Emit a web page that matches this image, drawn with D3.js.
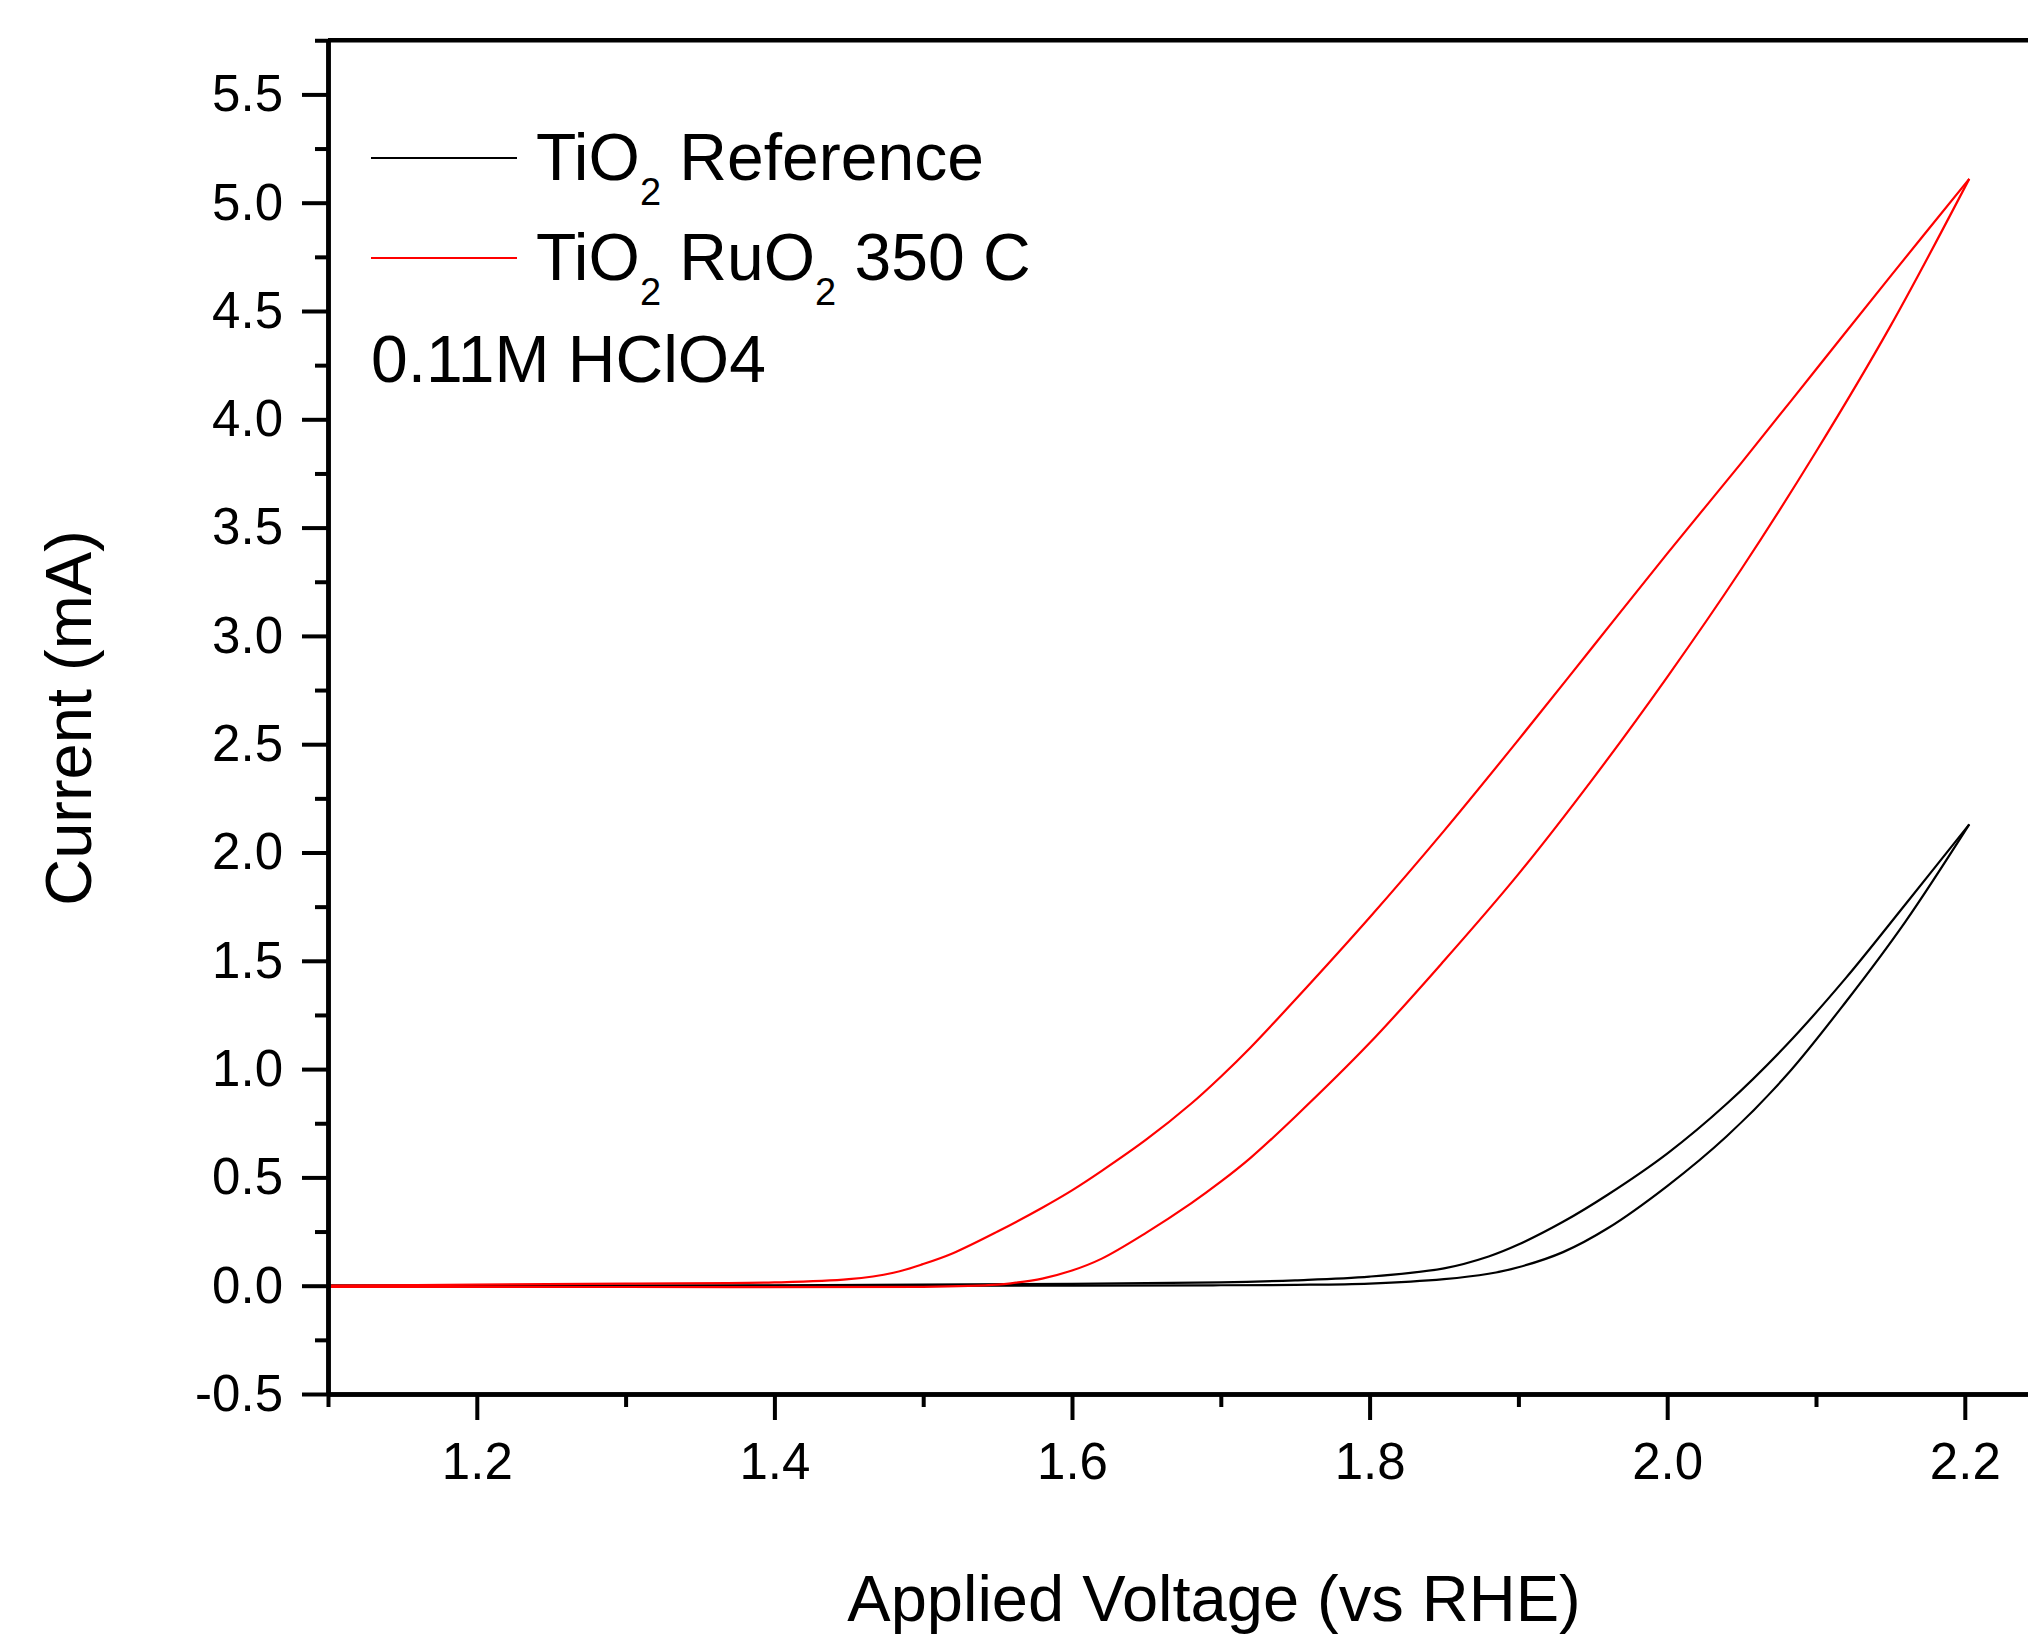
<!DOCTYPE html>
<html>
<head>
<meta charset="utf-8">
<script src="https://cdn.jsdelivr.net/npm/d3@7"></script>
<style>
  body { margin: 0; background: #fff; }
  svg text { font-family: "Liberation Sans", Arial, sans-serif; fill: #000; }
</style>
</head>
<body>
<div id="chart"></div>
<script>
// TiO2 reference loop: forward (lower) and reverse (upper) branches
var refFwdV = [1.10, 1.60, 1.70, 1.75, 1.80, 1.85, 1.88, 1.90, 1.93, 1.96, 2.00, 2.04, 2.08, 2.12, 2.16, 2.203];
var refFwdI = [0.0, 0.0, 0.002, 0.004, 0.01, 0.03, 0.055, 0.085, 0.155, 0.265, 0.46, 0.69, 0.97, 1.31, 1.68, 2.13];
var refRevV = [2.203, 2.16, 2.12, 2.08, 2.04, 2.00, 1.96, 1.93, 1.90, 1.88, 1.85, 1.80, 1.75, 1.70, 1.60, 1.40, 1.10];
var refRevI = [2.13, 1.76, 1.42, 1.11, 0.84, 0.61, 0.42, 0.295, 0.19, 0.135, 0.08, 0.042, 0.025, 0.015, 0.008, 0.002, 0.0];

// TiO2 RuO2 350 C loop
var ruFwdV = [1.10, 1.30, 1.50, 1.55, 1.56, 1.58, 1.60, 1.62, 1.65, 1.68, 1.70, 1.72, 1.75, 1.80, 1.85, 1.90, 1.95, 2.00, 2.05, 2.10, 2.15, 2.203];
var ruFwdI = [-0.005, -0.006, -0.005, 0.005, 0.012, 0.033, 0.07, 0.125, 0.245, 0.38, 0.48, 0.59, 0.78, 1.12, 1.50, 1.90, 2.34, 2.81, 3.31, 3.85, 4.43, 5.11];
var ruRevV = [2.203, 2.15, 2.10, 2.05, 2.00, 1.95, 1.90, 1.85, 1.80, 1.75, 1.72, 1.70, 1.68, 1.65, 1.62, 1.60, 1.58, 1.55, 1.52, 1.50, 1.48, 1.45, 1.40, 1.30, 1.20, 1.10];
var ruRevI = [5.11, 4.66, 4.23, 3.80, 3.38, 2.95, 2.52, 2.10, 1.70, 1.32, 1.10, 0.965, 0.84, 0.675, 0.53, 0.44, 0.36, 0.25, 0.15, 0.10, 0.06, 0.03, 0.015, 0.01, 0.005, 0.0];

var xMajor = [1.2, 1.4, 1.6, 1.8, 2.0, 2.2];
var xMinor = [1.1, 1.3, 1.5, 1.7, 1.9, 2.1];
var yMajor = [-0.5, 0, 0.5, 1.0, 1.5, 2.0, 2.5, 3.0, 3.5, 4.0, 4.5, 5.0, 5.5];
var yMajorLabels = ["-0.5", "0.0", "0.5", "1.0", "1.5", "2.0", "2.5", "3.0", "3.5", "4.0", "4.5", "5.0", "5.5"];
var yMinor = [-0.25, 0.25, 0.75, 1.25, 1.75, 2.25, 2.75, 3.25, 3.75, 4.25, 4.75, 5.25, 5.75];

var seriesColors = ["#000000", "#ff0000"];

var W = 2028, H = 1642;
var svg = d3.select("#chart").append("svg")
  .attr("width", W)
  .attr("height", H);

var x = d3.scaleLinear().domain([1.1, 2.25]).range([328, 328 + 1.15 * 1488]);
var y = d3.scaleLinear().domain([-0.5, 5.75]).range([1394, 1394 - 6.25 * 216.6]);

var zip = (vs, is) => vs.map((v, k) => ({ v: v, i: is[k] }));
var line = d3.line().x(d => x(d.v)).y(d => y(d.i)).curve(d3.curveCatmullRom.alpha(0.5));

var branches = [
  { data: zip(refFwdV, refFwdI), c: seriesColors[0] },
  { data: zip(refRevV, refRevI).reverse(), c: seriesColors[0] },
  { data: zip(ruFwdV, ruFwdI), c: seriesColors[1] },
  { data: zip(ruRevV, ruRevI).reverse(), c: seriesColors[1] }
];

svg.selectAll("path.curve")
  .data(branches)
  .join("path")
  .attr("class", "curve")
  .attr("fill", "none")
  .attr("stroke", d => d.c)
  .attr("stroke-width", 2.2)
  .attr("d", d => line(d.data));

// axes
function styleAxis(g) {
  g.selectAll(".domain").attr("stroke-width", 4.5);
  g.selectAll(".tick line").attr("stroke-width", 4);
  g.selectAll(".tick text").attr("font-size", 51).attr("font-family", "Liberation Sans, Arial, sans-serif");
}

svg.append("g")
  .attr("transform", "translate(0," + y(-0.5) + ")")
  .call(d3.axisBottom(x).tickValues(xMinor).tickSize(13).tickSizeOuter(0).tickFormat(""))
  .call(styleAxis);
svg.append("g")
  .attr("transform", "translate(0," + y(-0.5) + ")")
  .call(d3.axisBottom(x).tickValues(xMajor).tickSize(26).tickSizeOuter(0).tickPadding(23).tickFormat(d3.format(".1f")))
  .call(styleAxis);

svg.append("g")
  .attr("transform", "translate(" + x(1.1) + ",0)")
  .call(d3.axisLeft(y).tickValues(yMinor).tickSize(13).tickSizeOuter(0).tickFormat(""))
  .call(styleAxis);
svg.append("g")
  .attr("transform", "translate(" + x(1.1) + ",0)")
  .call(d3.axisLeft(y).tickValues(yMajor).tickSize(26).tickSizeOuter(0).tickPadding(19)
    .tickFormat((d, k) => yMajorLabels[k]))
  .call(styleAxis);

// top frame
svg.append("line")
  .attr("x1", x(1.1)).attr("x2", W)
  .attr("y1", y(5.75)).attr("y2", y(5.75))
  .attr("stroke", "#000").attr("stroke-width", 4.5);

// axis titles
svg.append("text")
  .attr("x", 1214).attr("y", 1621)
  .attr("text-anchor", "middle")
  .attr("font-size", 65)
  .text("Applied Voltage (vs RHE)");

svg.append("text")
  .attr("transform", "translate(91,718)rotate(-90)")
  .attr("text-anchor", "middle")
  .attr("font-size", 65)
  .text("Current (mA)");

// legend
var legendRows = [
  { parts: [["TiO", 0], ["2", 1], [" Reference", 0]], y: 180, c: seriesColors[0] },
  { parts: [["TiO", 0], ["2", 1], [" RuO", 0], ["2", 1], [" 350 C", 0]], y: 280, c: seriesColors[1] }
];
legendRows.forEach(r => {
  svg.append("line")
    .attr("x1", 371).attr("x2", 517)
    .attr("y1", r.y - 22).attr("y2", r.y - 22)
    .attr("stroke", r.c).attr("stroke-width", 2.2);
  var t = svg.append("text").attr("x", 536).attr("y", r.y).attr("font-size", 66);
  var shift = 0;
  r.parts.forEach(p => {
    var dy = p[1] ? 25 - shift : -shift;
    shift = p[1] ? 25 : 0;
    t.append("tspan")
      .attr("dy", dy)
      .attr("font-size", p[1] ? 38 : 66)
      .style("white-space", "pre")
      .text(p[0]);
  });
});

svg.append("text")
  .attr("x", 371).attr("y", 382)
  .attr("font-size", 66)
  .text("0.11M HClO4");
</script>
</body>
</html>
